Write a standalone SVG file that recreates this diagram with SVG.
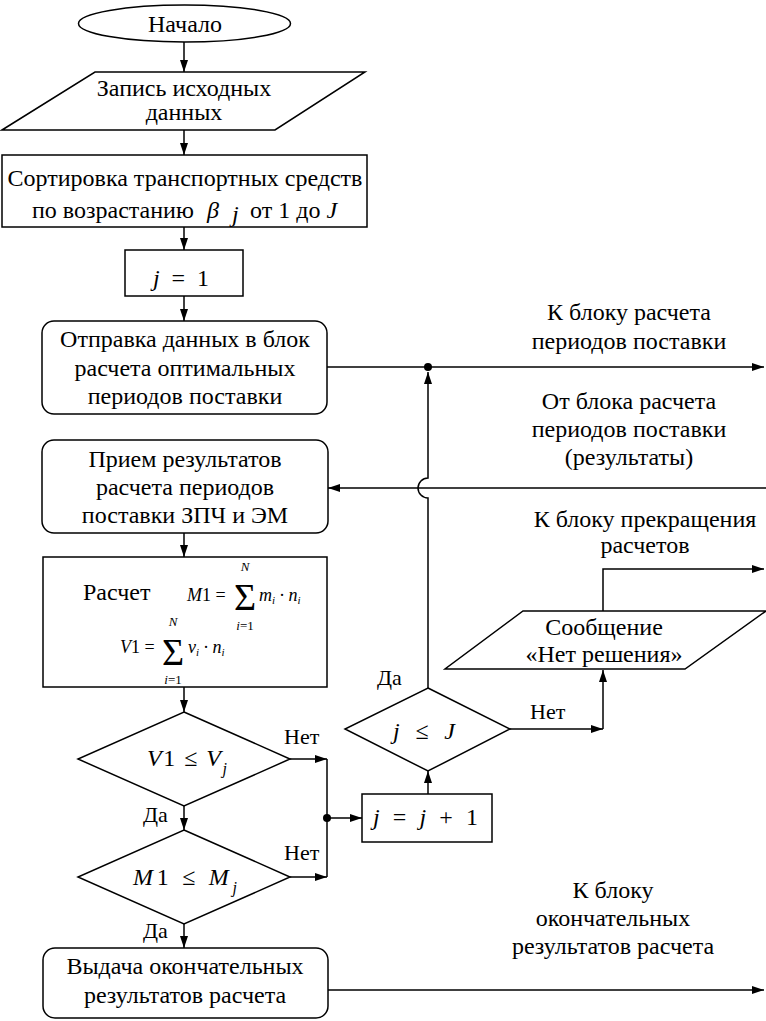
<svg xmlns="http://www.w3.org/2000/svg" width="766" height="1021" viewBox="0 0 766 1021" font-family="'Liberation Serif','Times New Roman',serif">
<style>
.s{fill:#fff;stroke:#000;stroke-width:1.5}
.c{fill:none;stroke:#000;stroke-width:1.5}
text{font-family:"Liberation Serif","Times New Roman",serif;font-size:24px;fill:#000}
.m{text-anchor:middle}
.i{font-style:italic}
.lb{font-size:22px}
.f{font-size:18px}
.sub{font-size:11px}
.sig{font-size:38px}
.lim{font-size:13px}
</style>
<defs>
<marker id="ah" viewBox="0 0 12 8" refX="12" refY="4" markerWidth="12" markerHeight="8" markerUnits="userSpaceOnUse" orient="auto">
<path d="M0,0 L12,4 L0,8 z" fill="#000"/>
</marker>
</defs>
<rect width="766" height="1021" fill="#fff"/>

<g id="connectors">
<line class="c" x1="184" y1="41" x2="184" y2="72" marker-end="url(#ah)"/>
<line class="c" x1="184" y1="130" x2="184" y2="155" marker-end="url(#ah)"/>
<line class="c" x1="184" y1="227" x2="184" y2="250" marker-end="url(#ah)"/>
<line class="c" x1="184" y1="296" x2="184" y2="321" marker-end="url(#ah)"/>
<line class="c" x1="327" y1="367" x2="764" y2="367" marker-end="url(#ah)"/>
<line class="c" x1="766" y1="488" x2="328" y2="488" marker-end="url(#ah)"/>
<line class="c" x1="184" y1="533" x2="184" y2="557" marker-end="url(#ah)"/>
<line class="c" x1="184" y1="687" x2="184" y2="712" marker-end="url(#ah)"/>
<line class="c" x1="184" y1="806" x2="184" y2="830" marker-end="url(#ah)"/>
<line class="c" x1="184" y1="924" x2="184" y2="948" marker-end="url(#ah)"/>
<line class="c" x1="328" y1="990" x2="764" y2="990" marker-end="url(#ah)"/>
<line class="c" x1="290" y1="759" x2="327" y2="759" marker-end="url(#ah)"/>
<line class="c" x1="290" y1="877" x2="327" y2="877" marker-end="url(#ah)"/>
<line class="c" x1="327" y1="759" x2="327" y2="877"/>
<circle cx="327" cy="818" r="4" fill="#000"/>
<line class="c" x1="327" y1="818" x2="362" y2="818" marker-end="url(#ah)"/>
<line class="c" x1="428" y1="794" x2="428" y2="771" marker-end="url(#ah)"/>
<path class="c" d="M428,688 V498 A10,10 0 0 1 428,478 V372" marker-end="url(#ah)"/>
<circle cx="428" cy="367" r="4" fill="#000"/>
<line class="c" x1="510" y1="729" x2="603" y2="729" marker-end="url(#ah)"/>
<line class="c" x1="603" y1="729" x2="603" y2="670" marker-end="url(#ah)"/>
<path class="c" d="M603,611 V569 H764" marker-end="url(#ah)"/>
</g>

<g id="start">
<ellipse class="s" cx="184.5" cy="23.5" rx="106" ry="18.5"/>
<text class="m" x="185" y="32">Начало</text>
</g>

<g id="input">
<polygon class="s" points="95,72 365,72 275,130 2,130"/>
<text class="m" x="184" y="96">Запись исходных</text>
<text class="m" x="184" y="120">данных</text>
</g>

<g id="sort">
<rect class="s" x="2" y="155" width="365" height="72"/>
<text class="m" x="185" y="186">Сортировка транспортных средств</text>
<text x="32" y="218">по возрастанию</text>
<text class="i" x="207" y="218" font-size="30">β</text>
<text class="i" x="232" y="222" font-size="11">j</text>
<text x="250" y="218">от 1 до <tspan class="i">J</tspan></text>
</g>

<g id="init">
<rect class="s" x="125" y="250" width="118" height="46"/>
<text x="153" y="286" font-size="36" textLength="56" lengthAdjust="spacing"><tspan class="i">j</tspan> = 1</text>
</g>

<g id="send">
<rect class="s" x="42" y="321" width="285" height="93" rx="12"/>
<text class="m" x="185" y="347">Отправка данных в блок</text>
<text class="m" x="185" y="376">расчета оптимальных</text>
<text class="m" x="185" y="404">периодов поставки</text>
</g>

<g id="receive">
<rect class="s" x="42" y="440" width="286" height="93" rx="12"/>
<text class="m" x="185" y="467">Прием результатов</text>
<text class="m" x="185" y="495">расчета периодов</text>
<text class="m" x="185" y="523">поставки ЗПЧ и ЭМ</text>
</g>

<g id="calc">
<rect class="s" x="43" y="557" width="284" height="130"/>
<text x="83" y="600">Расчет</text>
<text class="f" x="187" y="601"><tspan class="i">M</tspan>1 =</text>
<text class="sig m" x="245" y="610">Σ</text>
<text class="lim m i" x="245" y="571">N</text>
<text class="lim m" x="245" y="630"><tspan class="i">i</tspan>=1</text>
<text class="f i" x="259" y="601">m<tspan class="sub" dy="3">i</tspan><tspan dy="-3"> · n</tspan><tspan class="sub" dy="3">i</tspan></text>
<text class="f" x="120" y="653"><tspan class="i">V</tspan>1 =</text>
<text class="sig m" x="173" y="665">Σ</text>
<text class="lim m i" x="173" y="626">N</text>
<text class="lim m" x="173" y="684"><tspan class="i">i</tspan>=1</text>
<text class="f i" x="188" y="653">v<tspan class="sub" dy="3">i</tspan><tspan dy="-3"> · n</tspan><tspan class="sub" dy="3">i</tspan></text>
</g>

<g id="checkV">
<polygon class="s" points="184,712 290,759 184,806 78,759"/>
<text x="147" y="766" font-size="26" textLength="80" lengthAdjust="spacing"><tspan class="i">V</tspan>1 ≤ <tspan class="i">V</tspan><tspan class="i" font-size="16" dy="8">j</tspan></text>
<text class="lb" x="284" y="744">Нет</text>
<text class="lb" x="143" y="822">Да</text>
</g>

<g id="checkM">
<polygon class="s" points="184,830 290,877 184,924 78,877"/>
<text x="133" y="885" font-size="26" textLength="104" lengthAdjust="spacing"><tspan class="i">M</tspan>1 ≤ <tspan class="i">M</tspan><tspan class="i" font-size="16" dy="8">j</tspan></text>
<text class="lb" x="284" y="860">Нет</text>
<text class="lb" x="143" y="938">Да</text>
</g>

<g id="output">
<rect class="s" x="43" y="948" width="285" height="70" rx="12"/>
<text class="m" x="185" y="974">Выдача окончательных</text>
<text class="m" x="185" y="1003">результатов расчета</text>
</g>

<g id="increment">
<rect class="s" x="362" y="794" width="130" height="48"/>
<text x="373" y="825" font-size="32" textLength="105" lengthAdjust="spacing"><tspan class="i">j</tspan> = <tspan class="i">j</tspan> + 1</text>
</g>

<g id="checkJ">
<polygon class="s" points="428,688 510,729 428,771 345,729"/>
<text x="393" y="739" font-size="30" textLength="62" lengthAdjust="spacing"><tspan class="i">j</tspan> ≤ <tspan class="i">J</tspan></text>
<text class="lb" x="377" y="685">Да</text>
<text class="lb" x="530" y="719">Нет</text>
</g>

<g id="message">
<polygon class="s" points="523,611 766,611 685,669 445,669"/>
<text class="m" x="604" y="635">Сообщение</text>
<text class="m" x="604" y="662">«Нет решения»</text>
</g>

<g id="labels">
<text class="m" x="629" y="320">К блоку расчета</text>
<text class="m" x="629" y="349">периодов поставки</text>
<text class="m" x="629" y="409">От блока расчета</text>
<text class="m" x="629" y="437">периодов поставки</text>
<text class="m" x="629" y="465">(результаты)</text>
<text class="m" x="645" y="527">К блоку прекращения</text>
<text class="m" x="645" y="553">расчетов</text>
<text class="m" x="613" y="898">К блоку</text>
<text class="m" x="613" y="926">окончательных</text>
<text class="m" x="613" y="954">результатов расчета</text>
</g>
</svg>
